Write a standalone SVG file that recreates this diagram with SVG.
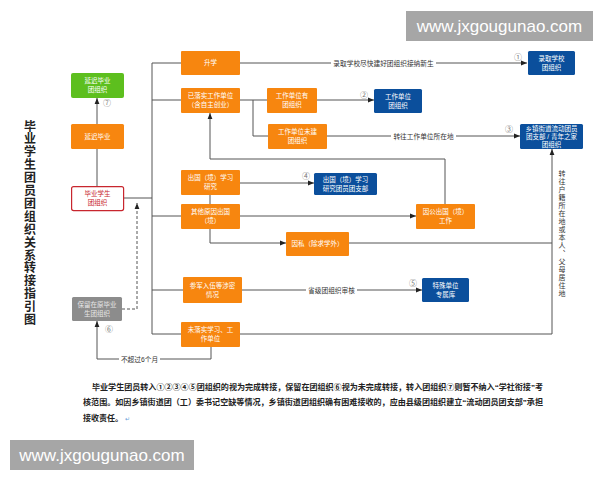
<svg xmlns="http://www.w3.org/2000/svg" width="600" height="480" viewBox="0 0 600 480">
<defs>
<style>
text{font-family:"Liberation Sans","Noto Sans CJK SC",sans-serif}
.o{fill:#f7860f}
.b{fill:#0b4f9c}
.nt{fill:#fff;font-size:6.5px;text-anchor:middle}
.ln{fill:none;stroke:#555;stroke-width:1}
.lb{fill:#333;font-size:6.7px;text-anchor:middle}
.cn{fill:#777;font-size:8px;text-anchor:middle}
.wm{fill:#a6a6a6}
.wt{fill:#fff;font-size:17px}
</style>
<marker id="ar" viewBox="0 0 10 10" refX="10" refY="5" markerWidth="6" markerHeight="6" orient="auto" markerUnits="userSpaceOnUse">
<path d="M0,1 L10,5 L0,9 z" fill="#222"/>
</marker>
</defs>
<rect width="600" height="480" fill="#fff"/>

<g id="watermarks">
<rect class="wm" x="406" y="11" width="187" height="30"/>
<text class="wt" x="499.5" y="32" text-anchor="middle">www.jxgougunao.com</text>
<rect class="wm" x="10" y="440" width="184" height="30"/>
<text class="wt" x="102" y="461" text-anchor="middle">www.jxgougunao.com</text>
</g>

<g id="title">
<text x="30" y="120" fill="#222" font-size="12" font-weight="bold" style="writing-mode:vertical-rl;font-family:'Noto Sans CJK SC',sans-serif" letter-spacing="0.9">毕业学生团员团组织关系转接指引图</text>
</g>

<g id="connectors">
<path class="ln" d="M124,198 H152"/>
<path class="ln" d="M152,63 V334"/>
<path class="ln" d="M152,63 H181 M152,100 H181 M152,216 H181 M152,290 H183 M152,334 H181"/>
<path class="ln" d="M97,186 V149"/>
<path class="ln" d="M97,124 V98" marker-end="url(#ar)"/>
<path class="ln" d="M240,63 H527" marker-end="url(#ar)"/>
<path class="ln" d="M240,100 H267"/>
<path class="ln" d="M317,100 H374" marker-end="url(#ar)"/>
<path class="ln" d="M253,100 V136 H268"/>
<path class="ln" d="M327,136 H520" marker-end="url(#ar)"/>
<path class="ln" d="M445,204 V159 H210 V113" marker-end="url(#ar)"/>
<path class="ln" d="M240,183 H314" marker-end="url(#ar)"/>
<path class="ln" d="M210,195 V204"/>
<path class="ln" d="M240,216 H416" marker-end="url(#ar)"/>
<path class="ln" d="M210,229 V243 H286" marker-end="url(#ar)"/>
<path class="ln" d="M349,243 H552"/>
<path class="ln" d="M240,334 H552 V149" marker-end="url(#ar)"/>
<path class="ln" d="M242,290 H422" marker-end="url(#ar)"/>
<path class="ln" d="M211,347 V359 H97 V321" marker-end="url(#ar)"/>
<path class="ln" d="M122,309 H137 V203" stroke="#999" stroke-dasharray="3,2" marker-end="url(#ar)"/>
<rect x="331" y="58" width="105" height="10" fill="#fff"/>
<text class="lb" x="383.5" y="66">录取学校尽快建好团组织接纳新生</text>
<rect x="391" y="131" width="65" height="10" fill="#fff"/>
<text class="lb" x="423.5" y="139">转往工作单位所在地</text>
<rect x="306" y="285" width="51" height="10" fill="#fff"/>
<text class="lb" x="331.5" y="293">省级团组织审核</text>
<rect x="119" y="354" width="41" height="10" fill="#fff"/>
<text class="lb" x="139.5" y="362">不超过6个月</text>
<text x="562" y="170" fill="#333" font-size="7" style="writing-mode:vertical-rl;font-family:'Noto Sans CJK SC',sans-serif" letter-spacing="1">转往户籍所在地或本人、父母居住地</text>
<text class="cn" x="518" y="60">①</text>
<text class="cn" x="364" y="98">②</text>
<text class="cn" x="509" y="132">③</text>
<text class="cn" x="306" y="179">④</text>
<text class="cn" x="413" y="286">⑤</text>
<text class="cn" x="109" y="332">⑥</text>
<text class="cn" x="107" y="106">⑦</text>
</g>

<g id="n-yanchi-tuan"><rect x="71" y="73" width="53" height="25" rx="2" fill="#5dbf1e"/><text class="nt" x="97.5" y="83.3">延迟毕业</text><text class="nt" x="97.5" y="92.3">团组织</text></g>
<g id="n-yanchi"><rect class="o" x="71" y="124" width="53" height="25" rx="1.5"/><text class="nt" x="97.5" y="138.8">延迟毕业</text></g>
<g id="n-biye"><rect x="71.6" y="186.6" width="52" height="24" rx="2" fill="#fff" stroke="#c8262e" stroke-width="1.2"/><text class="nt" x="97.5" y="196.3" style="fill:#c8262e">毕业学生</text><text class="nt" x="97.5" y="205.3" style="fill:#c8262e">团组织</text></g>
<g id="n-shengxue"><rect class="o" x="181" y="51" width="59" height="24" rx="1"/><text class="nt" x="210.5" y="65.3">升学</text></g>
<g id="n-yiluoshi"><rect class="o" x="181" y="88" width="59" height="25" rx="1"/><text class="nt" x="210.5" y="98.3">已落实工作单位</text><text class="nt" x="210.5" y="107.3">（含自主创业）</text></g>
<g id="n-gzdwy"><rect class="o" x="267" y="88" width="50" height="25" rx="1"/><text class="nt" x="292" y="98.3">工作单位有</text><text class="nt" x="292" y="107.3">团组织</text></g>
<g id="n-gzdwwj"><rect class="o" x="268" y="124" width="59" height="25" rx="1"/><text class="nt" x="297.5" y="134.3">工作单位未建</text><text class="nt" x="297.5" y="143.3">团组织</text></g>
<g id="n-chuguoxx"><rect class="o" x="181" y="170" width="59" height="25" rx="1"/><text class="nt" x="210.5" y="180.3">出国（境）学习</text><text class="nt" x="210.5" y="189.3">研究</text></g>
<g id="n-qita"><rect class="o" x="181" y="204" width="59" height="25" rx="1"/><text class="nt" x="210.5" y="214.3">其他原因出国</text><text class="nt" x="210.5" y="223.3">（境）</text></g>
<g id="n-yingong"><rect class="o" x="416" y="204" width="59" height="25" rx="1"/><text class="nt" x="445.5" y="214.3">因公出国（境）</text><text class="nt" x="445.5" y="223.3">工作</text></g>
<g id="n-yinsi"><rect class="o" x="286" y="232" width="63" height="24" rx="1"/><text class="nt" x="317.5" y="246.3">因私（除求学外）</text></g>
<g id="n-canjun"><rect class="o" x="183" y="277" width="59" height="26" rx="1"/><text class="nt" x="212.5" y="287.8">参军入伍等涉密</text><text class="nt" x="212.5" y="296.8">情况</text></g>
<g id="n-weiluoshi"><rect class="o" x="181" y="322" width="59" height="25" rx="1"/><text class="nt" x="210.5" y="332.3">未落实学习、工</text><text class="nt" x="210.5" y="341.3">作单位</text></g>
<g id="n-baoliu"><rect x="72" y="297" width="50" height="24" rx="1.5" fill="#8c8c8c"/><text class="nt" x="97" y="306.8" style="fill:#e6e6e6">保留在原毕业</text><text class="nt" x="97" y="315.8" style="fill:#e6e6e6">生团组织</text></g>
<g id="n-luqu"><rect class="b" x="528" y="51" width="47" height="24" rx="1.5"/><text class="nt" x="551.5" y="60.8">录取学校</text><text class="nt" x="551.5" y="69.8">团组织</text></g>
<g id="n-gzdw"><rect class="b" x="374" y="89" width="48" height="24" rx="1.5"/><text class="nt" x="398" y="98.8">工作单位</text><text class="nt" x="398" y="107.8">团组织</text></g>
<g id="n-xiangzhen"><rect class="b" x="520" y="124" width="63" height="25" rx="1.5"/><text class="nt" x="551.5" y="131.3">乡镇街道流动团员</text><text class="nt" x="551.5" y="139.3">团支部 / 青年之家</text><text class="nt" x="551.5" y="147.3">团组织</text></g>
<g id="n-chuguotzb"><rect class="b" x="314" y="173" width="63" height="22" rx="1.5"/><text class="nt" x="345.5" y="181.8">出国（境）学习</text><text class="nt" x="345.5" y="190.8">研究团员团支部</text></g>
<g id="n-teshu"><rect class="b" x="422" y="278" width="47" height="24" rx="1.5"/><text class="nt" x="445.5" y="287.8">特殊单位</text><text class="nt" x="445.5" y="296.8">专属库</text></g>

<g id="note" fill="#222" font-size="8" font-weight="bold">
<text x="92" y="390" textLength="451" lengthAdjust="spacingAndGlyphs">毕业学生团员转入①②③④⑤团组织的视为完成转接，保留在团组织⑥视为未完成转接，转入团组织⑦则暂不纳入“学社衔接”考</text>
<text x="83" y="405" textLength="460" lengthAdjust="spacingAndGlyphs">核范围。如因乡镇街道团（工）委书记空缺等情况，乡镇街道团组织确有困难接收的，应由县级团组织建立“流动团员团支部”承担</text>
<text x="83" y="421">接收责任。</text>
<text x="125" y="421" font-size="6" font-weight="normal" fill="#6aa0d8">↵</text>
</g>
</svg>
